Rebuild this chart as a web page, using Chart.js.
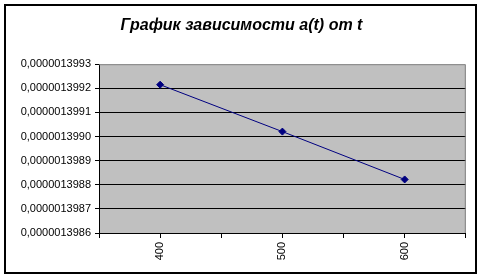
<!DOCTYPE html>
<html>
<head>
<meta charset="utf-8">
<script src="https://cdn.jsdelivr.net/npm/chart.js@4"></script>
<style>
  html, body { margin: 0; padding: 0; background: #fff; }
  #wrap { width: 483px; height: 278px; position: relative; }
</style>
</head>
<body>
<div id="wrap"><canvas id="chart" width="483" height="278"></canvas></div>
<script>
// data
const tValues = [400, 500, 600];
const aValues = [0.0000013992150, 0.0000013990205, 0.0000013988220];
const xTickLabels = [400, 500, 600];
const yTickValues = [0.0000013986, 0.0000013987, 0.0000013988, 0.0000013989,
                     0.0000013990, 0.0000013991, 0.0000013992, 0.0000013993];

const points = tValues.map((t, i) => ({ x: t, y: aValues[i] }));

const frame = {
    id: 'frame',
    afterLayout(chart) {
        // center the title over the whole picture, not just the padded area
        if (chart.titleBlock) {
            chart.titleBlock.left = 0;
            chart.titleBlock.right = chart.width;
            chart.titleBlock.width = chart.width;
        }
    },
    beforeDraw(chart) {
        const c = chart.ctx, a = chart.chartArea;
        c.save();
        c.fillStyle = '#fff';
        c.fillRect(0, 0, chart.width, chart.height);
        c.fillStyle = '#c0c0c0';
        c.fillRect(a.left, a.top, a.right - a.left, a.bottom - a.top);
        c.strokeStyle = '#000';
        c.lineWidth = 2;
        c.strokeRect(5, 5, 471, 268);
        c.restore();
    },
    afterDraw(chart) {
        const c = chart.ctx, a = chart.chartArea;
        c.save();
        c.strokeStyle = '#808080';
        c.lineWidth = 1;
        c.beginPath();
        c.moveTo(a.left, a.top + 0.5);
        c.lineTo(a.right - 0.5, a.top + 0.5);
        c.lineTo(a.right - 0.5, a.bottom);
        c.stroke();
        c.restore();
    }
};

new Chart(document.getElementById('chart'), {
    type: 'line',
    data: {
        datasets: [{
            data: points,
            borderColor: '#000080',
            backgroundColor: '#000080',
            borderWidth: 1,
            pointStyle: 'rectRot',
            pointRadius: 3.5,
            pointBorderWidth: 1,
            tension: 0
        }]
    },
    options: {
        responsive: false,
        animation: false,
        layout: { padding: { left: 0, right: 16, top: 0, bottom: 0 } },
        plugins: {
            legend: { display: false },
            tooltip: { enabled: false },
            title: {
                display: true,
                text: 'График зависимости a(t) от t',
                color: '#000',
                font: { family: '"Liberation Sans", Arial, sans-serif', size: 16, weight: 'bold', style: 'italic' },
                padding: { top: 16, bottom: 29 }
            }
        },
        scales: {
            x: {
                type: 'linear',
                min: 350,
                max: 650,
                afterFit(scale) { scale.height = 45; },
                afterBuildTicks(scale) {
                    scale.ticks = [350, 400, 450, 500, 550, 600, 650].map(v => ({ value: v }));
                },
                ticks: {
                    color: '#000',
                    font: { family: '"Liberation Sans", Arial, sans-serif', size: 11 },
                    minRotation: 90,
                    maxRotation: 90,
                    padding: 4,
                    callback: v => xTickLabels.includes(v) ? String(v) : ''
                },
                grid: { drawOnChartArea: false, drawTicks: true, tickLength: 5, color: '#000' },
                border: { display: true, color: '#000', width: 1 }
            },
            y: {
                min: yTickValues[0],
                max: yTickValues[yTickValues.length - 1],
                afterFit(scale) { scale.width = 99; },
                afterBuildTicks(scale) {
                    scale.ticks = yTickValues.map(v => ({ value: v }));
                },
                ticks: {
                    color: '#000',
                    font: { family: '"Liberation Sans", Arial, sans-serif', size: 11 },
                    padding: 4,
                    callback: v => v.toFixed(10).replace('.', ',')
                },
                grid: {
                    color: ctx => ctx.index === yTickValues.length - 1 ? 'rgba(0,0,0,0)' : '#000',
                    tickColor: '#000',
                    tickLength: 4,
                    lineWidth: 1
                },
                border: { display: true, color: '#000', width: 1 }
            }
        }
    },
    plugins: [frame]
});
</script>
</body>
</html>
